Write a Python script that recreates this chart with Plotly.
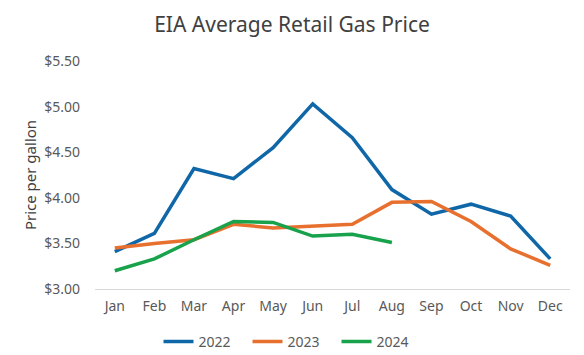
import plotly.graph_objects as go

months = ["Jan", "Feb", "Mar", "Apr", "May", "Jun", "Jul", "Aug", "Sep", "Oct", "Nov", "Dec"]
price_2022 = [3.41, 3.61, 4.32, 4.21, 4.55, 5.03, 4.66, 4.09, 3.82, 3.93, 3.80, 3.33]
price_2023 = [3.45, 3.50, 3.54, 3.71, 3.67, 3.69, 3.71, 3.95, 3.96, 3.74, 3.44, 3.26]
price_2024 = [3.20, 3.33, 3.54, 3.74, 3.73, 3.58, 3.60, 3.51]
y_ticks = [3.0, 3.5, 4.0, 4.5, 5.0, 5.5]
y_tick_labels = ["$3.00", "$3.50", "$4.00", "$4.50", "$5.00", "$5.50"]

FONT = "Noto Sans"
H = 355
fig = go.Figure()
for name, vals, color in [
    ("2022", price_2022, "#0F67A8"),
    ("2023", price_2023, "#E8702F"),
    ("2024", price_2024, "#17A24B"),
]:
    fig.add_trace(go.Scatter(x=months[:len(vals)], y=vals, mode="lines", name=name,
                             line=dict(color=color, width=3.5)))

fig.update_layout(
    width=584, height=H,
    margin=dict(l=95, r=14, t=61, b=66, autoexpand=False),
    paper_bgcolor="white", plot_bgcolor="white",
    font=dict(family=FONT, color="#595959", size=14),
    title=dict(text="EIA Average Retail Gas Price", x=0.5, xref="container", xanchor="center",
               y=1 - 25 / H, yref="container", yanchor="middle",
               font=dict(family=FONT, size=21, color="#404040")),
    legend=dict(orientation="h", x=0.5, xref="container", xanchor="center",
                y=13 / H, yref="container", yanchor="middle",
                entrywidth=44, entrywidthmode="pixels",
                font=dict(size=14, color="#595959"), tracegroupgap=0),
    showlegend=True,
)
fig.update_xaxes(type="category", categoryorder="array", categoryarray=months,
                 range=[-0.5, 11.5], showgrid=False, showline=True, linecolor="#D9D9D9",
                 linewidth=1, ticks="", ticklabelstandoff=4, tickfont=dict(size=14, color="#595959"))
fig.update_yaxes(range=[3.0, 5.5], tickvals=y_ticks, ticktext=y_tick_labels, showgrid=False,
                 zeroline=False, showline=False, ticks="", ticklabelstandoff=14,
                 title=dict(text="Price per gallon", font=dict(size=15, color="#404040"), standoff=3),
                 tickfont=dict(size=14, color="#595959"))
fig.write_html("out.html", post_script="document.body.style.margin='0';",
               config={"displayModeBar": False})
